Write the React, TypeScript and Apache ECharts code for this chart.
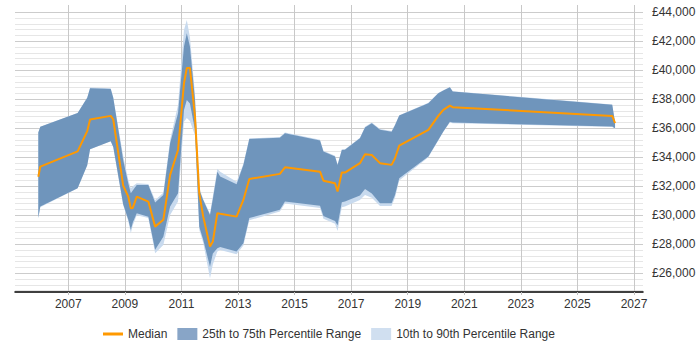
import React, { useEffect, useRef } from "react";
import * as echarts from "echarts";

const years = [
  2005.94, 2006.01, 2007.33, 2007.67, 2007.77, 2008.5, 2008.59, 2008.94, 2009.12, 2009.21,
  2009.28, 2009.42, 2009.83, 2010.07, 2010.36, 2010.6, 2010.88, 2011.09, 2011.19, 2011.3,
  2011.48, 2011.63, 2011.77, 2012.01, 2012.11, 2012.27, 2012.37, 2012.95, 2013.19, 2013.4,
  2014.48, 2014.66, 2015.9, 2016.02, 2016.43, 2016.52, 2016.67, 2016.78, 2017.31, 2017.49,
  2017.73, 2018.02, 2018.43, 2018.55, 2018.7, 2019.73, 2020.08, 2020.26, 2020.49, 2020.59,
  2026.23, 2026.33,
];
const p10 = [
  29800, 30550, 31850, 33450, 34550, 35100, 34700, 30700, 29600, 28750,
  29300, 30000, 29800, 27380, 27950, 30020, 30940, 36450, 36700, 36500,
  35500, 29000, 28100, 25650, 26600, 27500, 27600, 27300, 27900, 29650,
  30250, 30800, 30500, 29750, 29400, 28900, 30550, 30600, 31050, 31400,
  31200, 30640, 30640, 31200, 32400, 34000, 35150, 35750, 36400, 36350,
  36080, 35950,
];
const p25 = [
  29800, 30600, 31850, 33450, 34550, 35100, 34700, 30750, 29700, 28990,
  29500, 30140, 29900, 27610, 28520, 30590, 31520, 37260, 37950, 37700,
  35880, 29210, 28300, 26450, 27350, 27720, 27800, 27490, 28070, 29800,
  30370, 30940, 30650, 29950, 29600, 29300, 30900, 30940, 31350, 31800,
  31500, 30830, 30830, 31400, 32550, 34040, 35190, 35770, 36450, 36390,
  36110, 36000,
];
const median = [
  32650, 33350, 34400, 35800, 36600, 36850, 36600, 32050, 31280, 30480,
  30500, 31280, 30940, 29210, 29680, 32780, 34500, 39100, 40150, 40150,
  36800, 31520, 29900, 27835, 28180, 30140, 30100, 29900, 31050, 32500,
  32850, 33300, 33000, 32380, 32200, 31630, 32950, 32940, 33590, 34200,
  34150, 33590, 33470, 33930, 34800, 35880, 36850, 37260, 37560, 37450,
  36850, 36350,
];
const p75 = [
  35700, 36100, 37050, 38100, 38750, 38700, 38100, 33800, 32200, 31520,
  31700, 32090, 32090, 30870, 31400, 34970, 37030, 41630, 42550, 41630,
  37950, 31750, 31055, 30020, 31100, 33000, 32660, 32140, 33470, 35250,
  35350, 35650, 35150, 34390, 34040, 33470, 34500, 34520, 35300, 36050,
  36345, 35900, 35760, 36200, 36880, 37730, 38410, 38600, 38830, 38530,
  37610, 36400,
];
const p90 = [
  35700, 36100, 37050, 38100, 38800, 38750, 38100, 34100, 32450, 31860,
  32000, 32200, 32150, 31050, 31550, 35200, 37600, 42780, 43470, 42300,
  38300, 31900, 31100, 30100, 31300, 33200, 33000, 32300, 33550, 35300,
  35400, 35700, 35200, 34450, 34100, 33500, 34550, 34550, 35350, 36100,
  36400, 35950, 35800, 36230, 36900, 37750, 38430, 38620, 38850, 38550,
  37630, 36420,
];

const xTickYears = [2007, 2009, 2011, 2013, 2015, 2017, 2019, 2021, 2023, 2025, 2027];
const yLabelValues = [26000, 28000, 30000, 32000, 34000, 36000, 38000, 40000, 42000, 44000];
const yGridValues: number[] = [];
for (let v = 24800; v <= 44000; v += 400) yGridValues.push(v);

const NAME_MED = "Median";
const NAME_IQR = "25th to 75th Percentile Range";
const NAME_OUT = "10th to 90th Percentile Range";

const FONT = "'Liberation Sans', Arial, sans-serif";

function bandSeries(name: string, lower: number[], upper: number[], fill: string, opacity: number, z: number) {
  return {
    type: "custom",
    name,
    coordinateSystem: "cartesian2d",
    silent: true,
    z,
    itemStyle: { color: fill },
    encode: { x: 0, y: 1 },
    data: [[years[0], lower[0]]],
    renderItem: (_params: any, api: any) => {
      const pts: number[][] = [];
      for (let i = 0; i < years.length; i++) pts.push(api.coord([years[i], upper[i]]));
      for (let i = years.length - 1; i >= 0; i--) pts.push(api.coord([years[i], lower[i]]));
      return {
        type: "polygon",
        shape: { points: pts },
        style: { fill, opacity, stroke: null },
      };
    },
  };
}

export default function App() {
  const ref = useRef<HTMLDivElement>(null);
  useEffect(() => {
    if (!ref.current) return;
    const chart = echarts.init(ref.current, null, { renderer: "svg" });
    chart.setOption({
      animation: false,
      grid: { left: 15, right: 57, top: 5, bottom: 58 },
      xAxis: {
        type: "value",
        min: 2005.116,
        max: 2027.318,
        axisLine: { show: true, lineStyle: { color: "#000", width: 1.5 } },
        axisTick: {
          show: true,
          length: 3,
          customValues: xTickYears,
          lineStyle: { color: "#c0c0c0" },
        },
        axisLabel: {
          customValues: xTickYears,
          color: "#333",
          fontSize: 12,
          fontFamily: FONT,
          margin: 6,
          formatter: (v: number) => String(Math.round(v)),
        },
        splitLine: { show: true, lineStyle: { color: "#c8c8c8", width: 1 } },
      },
      yAxis: {
        type: "value",
        position: "right",
        min: 24700,
        max: 44500,
        axisLine: { show: false },
        axisTick: { show: false, customValues: yGridValues },
        axisLabel: {
          customValues: yLabelValues,
          color: "#333",
          fontSize: 12,
          fontFamily: FONT,
          margin: 9,
          formatter: (v: number) => "£" + v.toLocaleString("en-GB"),
        },
        splitLine: {
          show: true,
          lineStyle: {
            color: ["#e6e6e6", "#e6e6e6", "#e6e6e6", "#cccccc", "#e6e6e6"],
            width: 1,
          },
        },
      },
      legend: {
        left: 98,
        top: 323,
        itemWidth: 20,
        itemHeight: 12,
        itemGap: 10,
        textStyle: { color: "#333", fontSize: 12, fontFamily: FONT },
        data: [
          { name: NAME_MED, icon: "path://M0,0L20,0L20,3L0,3Z", itemStyle: { color: "#ff9900", borderWidth: 0 } },
          { name: NAME_IQR, icon: "rect", itemStyle: { color: "#88a5c7", borderWidth: 0 } },
          { name: NAME_OUT, icon: "rect", itemStyle: { color: "#d0dff0", borderWidth: 0 } },
        ],
      },
      series: [
        bandSeries(NAME_OUT, p10, p90, "#c8daee", 1, 1),
        bandSeries(NAME_IQR, p25, p75, "#5f88b3", 0.85, 2),
        {
          type: "line",
          name: NAME_MED,
          symbol: "none",
          showSymbol: false,
          color: "#ff9900",
          lineStyle: { color: "#ff9900", width: 2 },
          data: years.map((t, i) => [t, median[i]]),
          z: 3,
        },
      ],
    });
    return () => chart.dispose();
  }, []);
  return (
    <div
      ref={ref}
      style={{ position: "absolute", left: 0, top: 0, width: 700, height: 350 }}
    />
  );
}
